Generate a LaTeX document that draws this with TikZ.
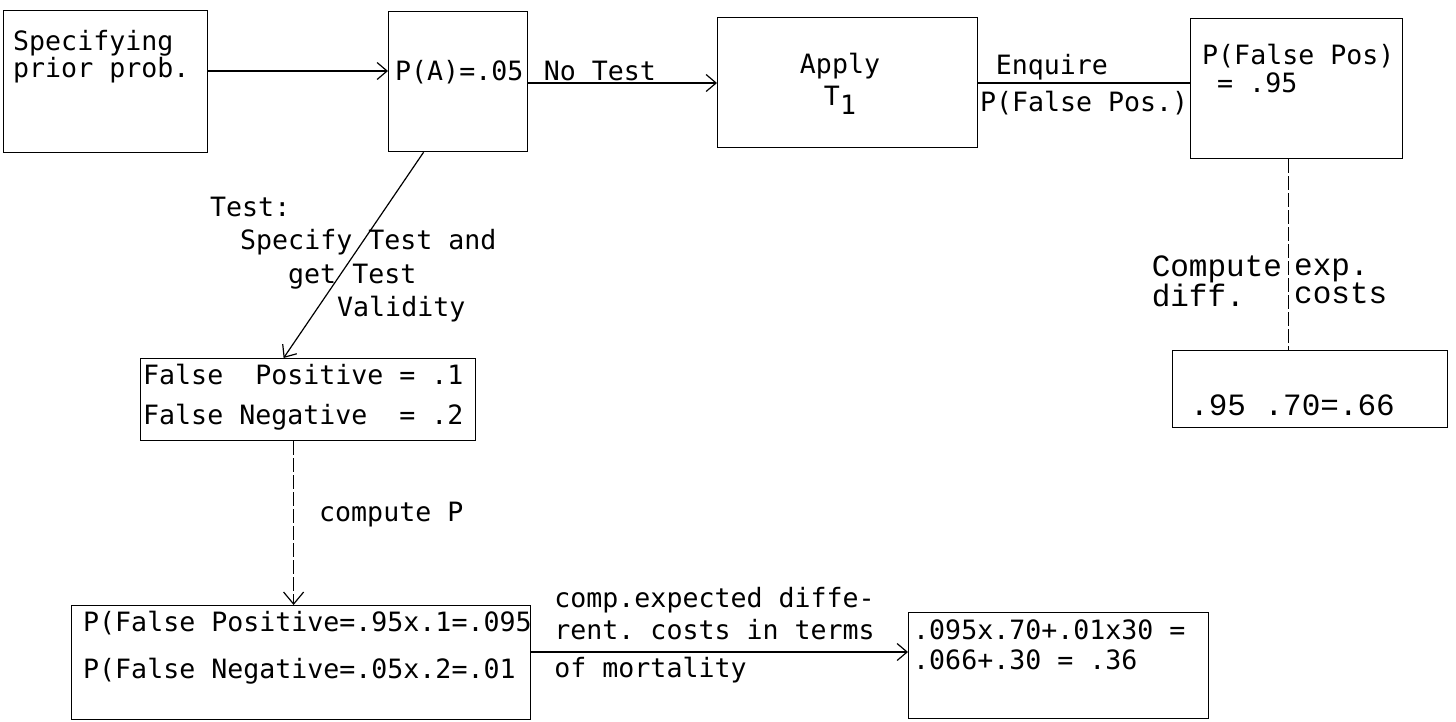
\documentclass[tikz,border=0pt]{standalone}
\usepackage{fontspec}
\newfontfamily\gothicfont{DejaVu Sans Mono}
\newfontfamily\courfont{Liberation Mono}
\usetikzlibrary{arrows.meta,positioning}
\frenchspacing

\begin{document}
\begin{tikzpicture}[
    x=1pt, y=-1pt,
    every node/.style={inner sep=0pt},
    box/.style={draw, line width=1.2pt, anchor=north west},
    txt/.style={font=\gothicfont\fontsize{26.6}{#1}\selectfont, align=left},
    txt/.default=33,
    ctxt/.style={font=\courfont\fontsize{31}{27}\selectfont, align=left},
    link/.style={line width=1.2pt},
    arr/.style={link, -{Straight Barb[length=10pt,width=17pt]}},
    broken/.style={link, dash pattern=on 14pt off 3pt},
]
\useasboundingbox (0,0) rectangle (1456,721);
% top row
\node[box, minimum width=204pt, minimum height=142pt] (spec)  at (3,10)   {};
\node[box, minimum width=139pt, minimum height=140pt] (pa)    at (388,11) {};
\node[box, minimum width=260pt, minimum height=130pt] (apply) at (717,17) {};
\node[box, minimum width=212pt, minimum height=140pt] (pfp)   at (1190,18) {};
\node[txt=25, anchor=west] (spectxt) at (13,57) {Specifying\\prior prob.};
\node[txt, anchor=west] (patxt) at (395,72) {P(A)=.05};
\node[txt=32, align=center] (applytxt) at (840,84) {Apply\\T\raisebox{-0.6ex}{1}};
\node[txt=28, anchor=west] (pfptxt) at (1202,69) {P(False Pos)\\\hspace*{15pt}= .95};
\draw[arr] (spec.east |- 0,71) -- (pa.west |- 0,71);
\draw[arr] (pa.east |- 0,83) -- node[txt, anchor=south, pos=0.38, yshift=2pt] (notest) {No Test} (apply.west |- 0,83);
\draw[link] (apply.east |- 0,83) -- node[txt, anchor=south west, pos=0.08, yshift=2pt] (enq) {Enquire}
  node[txt, anchor=north, midway, yshift=-8pt] (enqfp) {P(False Pos.)} (pfp.west |- 0,83);
% right column
\node[box, minimum width=275pt, minimum height=77pt] (cost) at (1172,350) {};
\node[ctxt, anchor=west] (costtxt) at (1190,405) {.95 .70=.66};
\draw[broken] ([xshift=-8pt]pfp.south) -- node[ctxt, anchor=east, pos=0.64, xshift=-6pt] (cmpl) {Compute\\diff.}
  node[ctxt, anchor=west, pos=0.64, xshift=5pt] (cmpr) {exp.\\costs} ([xshift=-8pt]pfp.south |- cost.north);
% left column
\node[box, minimum width=335pt, minimum height=82pt] (val) at (140,358) {};
\node[txt=40, anchor=west] (valtxt) at (143,397) {False\ \ Positive = .1\\False Negative\ \ = .2};
\node[txt=33.3, anchor=north west] (testlbl) at (210,197)
  {Test:\\\hspace*{30pt}Specify Test and\\\hspace*{78pt}get Test\\\hspace*{127pt}Validity};
\draw[arr] ([xshift=-34.5pt]pa.south) -- ([xshift=-24.5pt]val.north);
% bottom row
\node[box, minimum width=459pt, minimum height=114pt] (post) at (71,605) {};
\node[box, minimum width=300pt, minimum height=106pt] (expc) at (908,612) {};
\node[txt=47, anchor=west] (posttxt) at (83,648) {P(False Positive=.95x.1=.095\\P(False Negative=.05x.2=.01};
\node[txt=30, anchor=west] (expctxt) at (913,645) {.095x.70+.01x30 =\\.066+.30 = .36};
\draw[broken, -{Straight Barb[length=12pt,width=20pt]}] ([xshift=-14.5pt]val.south) --
  node[txt, anchor=west, pos=0.45, xshift=25pt] (cmpp) {compute P} ([xshift=-14.5pt]val.south |- post.north);
\draw[arr] (post.east |- 0,652) --
  node[txt=32, anchor=south west, pos=0.06, yshift=12pt] (cmpexp) {comp.expected diffe-\\rent. costs in terms}
  node[txt, anchor=north west, pos=0.06, yshift=-5pt] (mort) {of mortality} (expc.west |- 0,652);
\end{tikzpicture}
\end{document}
